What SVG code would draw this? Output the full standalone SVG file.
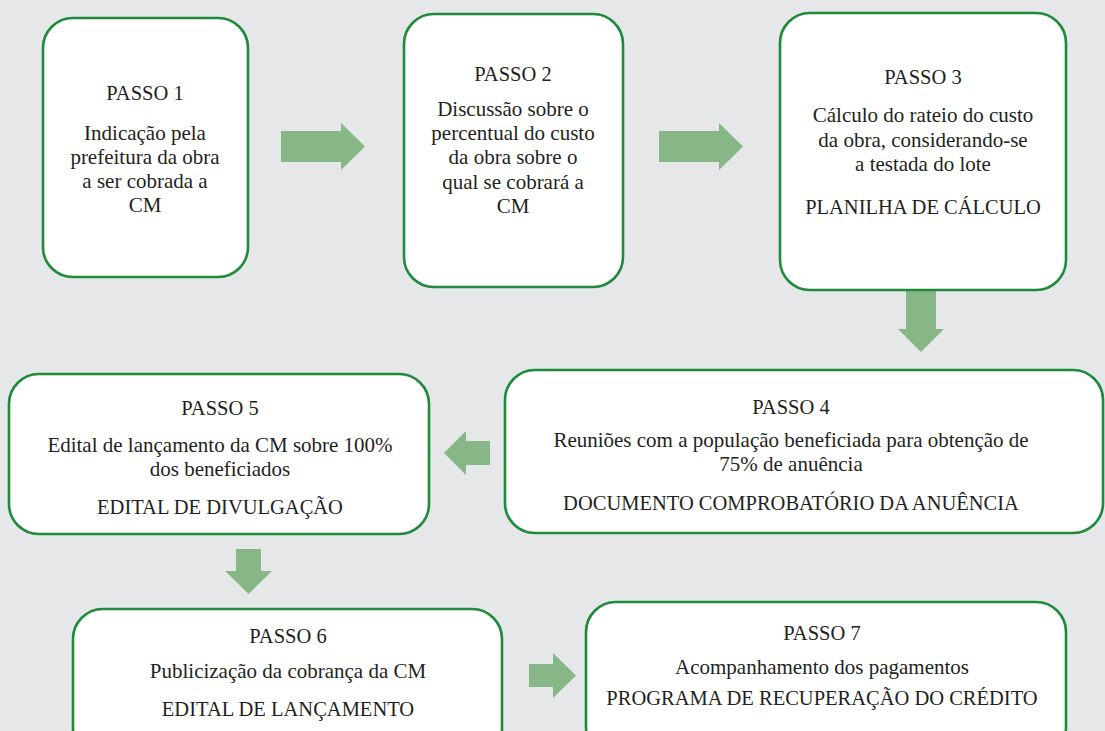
<svg xmlns="http://www.w3.org/2000/svg" width="1105" height="731" viewBox="0 0 1105 731">
  <style>
    .box { fill: #ffffff; stroke: #1e8a3b; stroke-width: 2.6; }
    .arrow { fill: #88b787; }
    text { font-family: "Liberation Serif", "Times New Roman", serif; fill: #231f20; text-anchor: middle; }
    .title { font-size: 20.5px; }
    .body { font-size: 21px; }
    .caps { font-size: 20.5px; }
  </style>
  <rect width="1105" height="731" fill="#e6e7e8"/>

  <!-- connectors: block arrows between the steps -->
  <g id="connectors">
    <polygon class="arrow" points="281,131 341,131 341,123 365,146.5 341,170 341,162 281,162"/>
    <polygon class="arrow" points="659,131 719,131 719,123 743,146.5 719,170 719,162 659,162"/>
    <polygon class="arrow" points="906,284 936,284 936,329 944,329 921,352 898,329 906,329"/>
    <polygon class="arrow" points="490,441 466,441 466,431 444,453 466,475 466,465 490,465"/>
    <polygon class="arrow" points="236,549 261,549 261,571 272,571 248.5,594 225,571 236,571"/>
    <polygon class="arrow" points="529,664 553,664 553,653 576,675.5 553,698 553,687 529,687"/>
  </g>

  <g id="passo1">
    <rect class="box" x="43" y="18" width="205" height="259" rx="30"/>
    <text class="title" x="145" y="100">PASSO 1</text>
    <text class="body" x="145" y="140">Indicação pela</text>
    <text class="body" x="145" y="164">prefeitura da obra</text>
    <text class="body" x="145" y="188">a ser cobrada a</text>
    <text class="body" x="145" y="212">CM</text>
  </g>

  <g id="passo2">
    <rect class="box" x="404" y="14" width="219" height="273" rx="30"/>
    <text class="title" x="513" y="81">PASSO 2</text>
    <text class="body" x="513" y="116">Discussão sobre o</text>
    <text class="body" x="513" y="140">percentual do custo</text>
    <text class="body" x="513" y="164">da obra sobre o</text>
    <text class="body" x="513" y="189">qual se cobrará a</text>
    <text class="body" x="513" y="213">CM</text>
  </g>

  <g id="passo3">
    <rect class="box" x="780" y="13" width="286" height="277" rx="30"/>
    <text class="title" x="923" y="84">PASSO 3</text>
    <text class="body" x="923" y="122">Cálculo do rateio do custo</text>
    <text class="body" x="923" y="147">da obra, considerando-se</text>
    <text class="body" x="923" y="171">a testada do lote</text>
    <text class="caps" x="923" y="214">PLANILHA DE CÁLCULO</text>
  </g>

  <g id="passo4">
    <rect class="box" x="505" y="370" width="598" height="163" rx="30"/>
    <text class="title" x="791" y="414">PASSO 4</text>
    <text class="body" x="791" y="447">Reuniões com a população beneficiada para obtenção de</text>
    <text class="body" x="791" y="471">75% de anuência</text>
    <text class="caps" x="791" y="510">DOCUMENTO COMPROBATÓRIO DA ANUÊNCIA</text>
  </g>

  <g id="passo5">
    <rect class="box" x="9" y="374" width="420" height="160" rx="30"/>
    <text class="title" x="220" y="415">PASSO 5</text>
    <text class="body" x="220" y="452">Edital de lançamento da CM sobre 100%</text>
    <text class="body" x="220" y="476">dos beneficiados</text>
    <text class="caps" x="220" y="514">EDITAL DE DIVULGAÇÃO</text>
  </g>

  <g id="passo6">
    <rect class="box" x="73" y="609" width="429" height="150" rx="30"/>
    <text class="title" x="288" y="643">PASSO 6</text>
    <text class="body" x="288" y="678">Publicização da cobrança da CM</text>
    <text class="caps" x="288" y="716">EDITAL DE LANÇAMENTO</text>
  </g>

  <g id="passo7">
    <rect class="box" x="586" y="602" width="480" height="155" rx="30"/>
    <text class="title" x="822" y="640">PASSO 7</text>
    <text class="body" x="822" y="674">Acompanhamento dos pagamentos</text>
    <text class="caps" x="822" y="705">PROGRAMA DE RECUPERAÇÃO DO CRÉDITO</text>
  </g>
</svg>
